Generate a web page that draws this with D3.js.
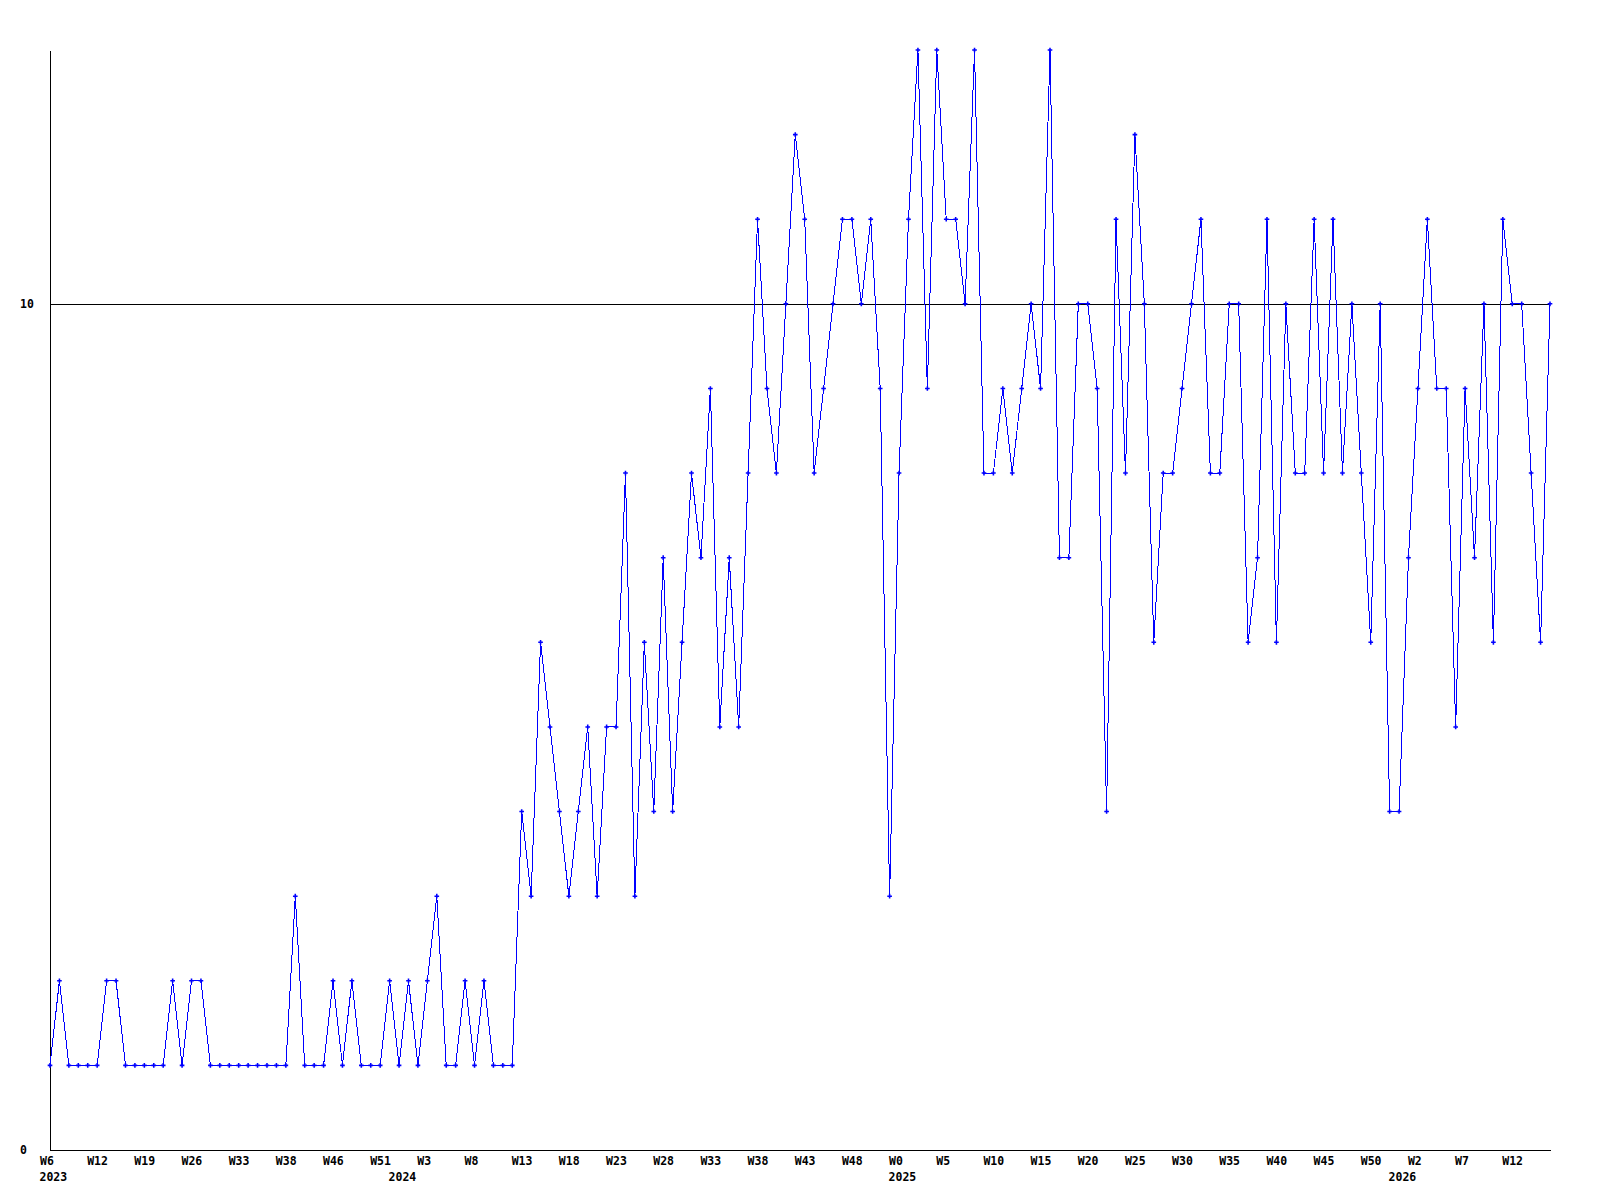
<!DOCTYPE html>
<html>
<head>
<meta charset="utf-8">
<script src="https://cdn.jsdelivr.net/npm/d3@7"></script>
<style>
  body { margin: 0; background: #fff; }
  svg text { font-family: "DejaVu Sans Mono", "Liberation Mono", monospace; font-weight: bold; font-size: 11.5px; fill: #000; }
</style>
</head>
<body>
<div id="chart"></div>
<script>
// weekly values, one per point (2023 W6 .. 2026 W14)
var values = [
  1, 2, 1, 1, 1, 1, 2, 2, 1, 1,
  1, 1, 1, 2, 1, 2, 2, 1, 1, 1,
  1, 1, 1, 1, 1, 1, 3, 1, 1, 1,
  2, 1, 2, 1, 1, 1, 2, 1, 2, 1,
  2, 3, 1, 1, 2, 1, 2, 1, 1, 1,
  4, 3, 6, 5, 4, 3, 4, 5, 3, 5,
  5, 8, 3, 6, 4, 7, 4, 6, 8, 7,
  9, 5, 7, 5, 8, 11, 9, 8, 10, 12,
  11, 8, 9, 10, 11, 11, 10, 11, 9, 3,
  8, 11, 13, 9, 13, 11, 11, 10, 13, 8,
  8, 9, 8, 9, 10, 9, 13, 7, 7, 10,
  10, 9, 4, 11, 8, 12, 10, 6, 8, 8,
  9, 10, 11, 8, 8, 10, 10, 6, 7, 11,
  6, 10, 8, 8, 11, 8, 11, 8, 10, 8,
  6, 10, 4, 4, 7, 9, 11, 9, 9, 5,
  9, 7, 10, 6, 11, 10, 10, 8, 6, 10
];

// week labels, one every 5 points
var weekTicks = ["W6", "W12", "W19", "W26", "W33", "W38", "W46", "W51", "W3", "W8",
  "W13", "W18", "W23", "W28", "W33", "W38", "W43", "W48", "W0", "W5",
  "W10", "W15", "W20", "W25", "W30", "W35", "W40", "W45", "W50", "W2",
  "W7", "W12"];
var tickStep = 5;

// year labels and the point where each year starts
var yearTicks = ["2023", "2024", "2025", "2026"];
var yearStart = [0, 37, 90, 143];

var yTicks = [0, 10];
var yMax = 13;

var margin = {top: 50, right: 50, bottom: 50, left: 50},
    width = 1600 - margin.left - margin.right,
    height = 1200 - margin.top - margin.bottom;

var svg = d3.select("#chart")
  .append("svg")
    .attr("width", 1600)
    .attr("height", 1200)
  .append("g")
    .attr("transform", "translate(" + margin.left + "," + margin.top + ")");

var x = d3.scaleLinear()
    .domain([0, values.length - 1])
    .range([0, width]);

var y = d3.scaleLinear()
    .domain([0, yMax])
    .range([height, 0]);

// grid line at 10
svg.append("g")
    .call(d3.axisLeft(y).tickValues([10]).tickSize(-width).tickFormat(""))
    .call(function(g) { g.select(".domain").remove(); })
    .selectAll("line")
      .attr("stroke", "#000")
      .attr("shape-rendering", "crispEdges");

// Y axis
var yAxis = svg.append("g")
    .call(d3.axisLeft(y).tickValues(yTicks).tickSize(0).tickSizeOuter(0).tickFormat(d3.format("d")));
yAxis.select(".domain").attr("stroke", "#000").attr("shape-rendering", "crispEdges");
yAxis.selectAll("text")
    .attr("text-anchor", "start")
    .attr("x", -30);

// X axis (labels start a little left of their point)
var xAxis = svg.append("g")
    .attr("transform", "translate(0," + height + ")")
    .call(d3.axisBottom(x)
      .tickValues(d3.range(0, values.length, tickStep))
      .tickSize(0)
      .tickSizeOuter(0)
      .tickPadding(7)
      .tickFormat(function(d, i) { return weekTicks[i]; }));
xAxis.select(".domain").attr("stroke", "#000").attr("shape-rendering", "crispEdges");
xAxis.selectAll("text")
    .attr("font-family", null)
    .attr("font-size", null)
    .attr("text-anchor", "start")
    .attr("x", -10.5);

// year labels
svg.append("g")
    .attr("transform", "translate(0," + height + ")")
  .selectAll("text")
  .data(yearTicks)
  .enter()
  .append("text")
    .attr("x", function(d, i) { return x(yearStart[i]) - 10.5; })
    .attr("y", 31)
    .attr("text-anchor", "start")
    .text(function(d) { return d; });

// the line
var line = d3.line()
    .x(function(d, i) { return x(i); })
    .y(function(d) { return y(d); });

svg.append("path")
    .datum(values)
    .attr("fill", "none")
    .attr("stroke", "#0000ff")
    .attr("stroke-width", 1)
    .attr("shape-rendering", "crispEdges")
    .attr("d", line);

// point markers
svg.selectAll(".pt")
    .data(values)
    .enter()
    .append("path")
      .attr("class", "pt")
      .attr("transform", function(d, i) { return "translate(" + x(i) + "," + y(d) + ")"; })
      .attr("d", d3.symbol().type(d3.symbolCross).size(12))
      .attr("fill", "#0000ff");
</script>
</body>
</html>
